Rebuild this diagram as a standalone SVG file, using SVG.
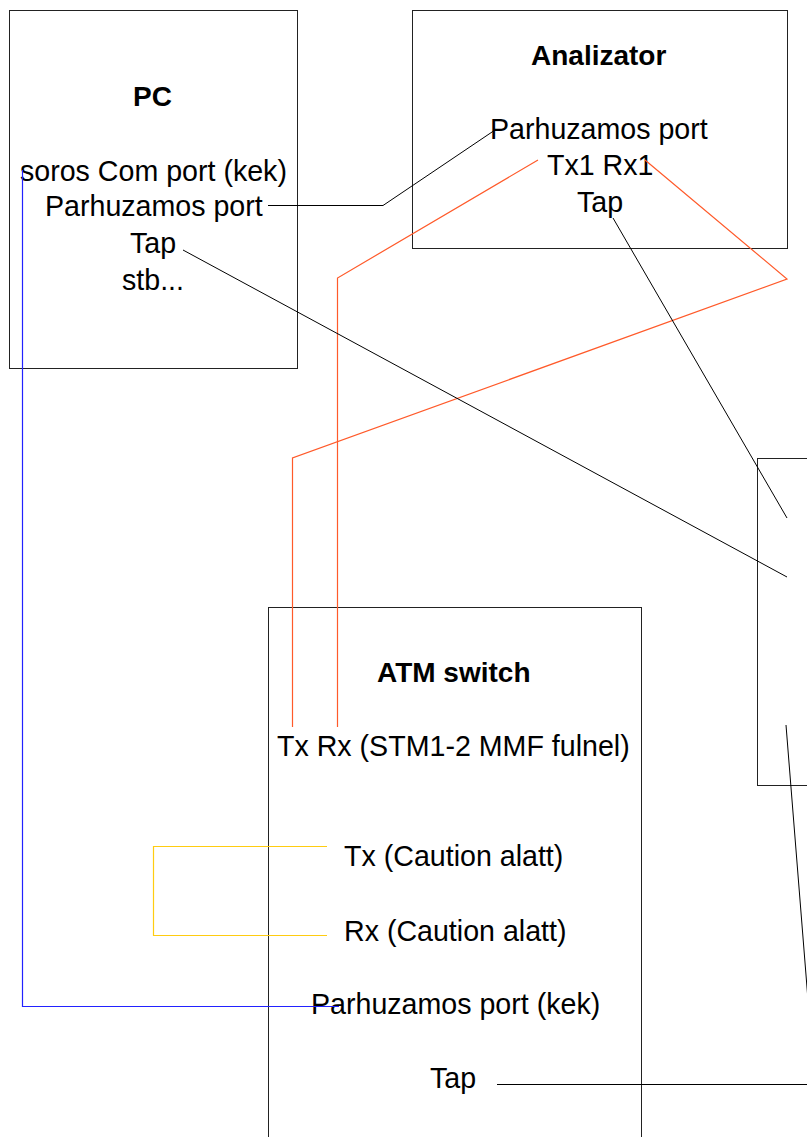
<svg xmlns="http://www.w3.org/2000/svg" width="807" height="1137" viewBox="0 0 807 1137">
<style>
.box{fill:none;stroke:#222;stroke-width:1}
.t{font-family:"Liberation Sans",Arial,sans-serif;font-size:28.6px;fill:#000}
.b{font-weight:bold;font-size:28px}
.c{fill:none;stroke-width:1.2}
.k{stroke:#000;stroke-width:1}
.r{stroke:#ff5a2a}
.y{stroke:#ffcc11}
.bl{stroke:#2222ff}
</style>
<rect width="807" height="1137" fill="#fff"/>
<g id="pc">
<rect class="box" x="9.5" y="10.5" width="288" height="358"/>
<text class="t b" x="133" y="106">PC</text>
<text class="t" x="20" y="181">soros Com port (kek)</text>
<text class="t" x="45" y="216">Parhuzamos port</text>
<text class="t" x="130" y="253">Tap</text>
<text class="t" x="122" y="290">stb...</text>
</g>
<g id="analizator">
<rect class="box" x="412.5" y="10.5" width="375" height="238"/>
<text class="t b" x="531" y="65">Analizator</text>
<text class="t" x="490" y="139">Parhuzamos port</text>
<text class="t" x="547" y="175">Tx1 Rx1</text>
<text class="t" x="577" y="212">Tap</text>
</g>
<g id="right-device">
<rect class="box" x="757.5" y="458.5" width="60" height="327"/>
</g>
<g id="atm-switch">
<rect class="box" x="268.5" y="607.5" width="373" height="540"/>
<text class="t b" x="377" y="682">ATM switch</text>
<text class="t" x="277" y="756">Tx Rx (STM1-2 MMF fulnel)</text>
<text class="t" x="344" y="866">Tx (Caution alatt)</text>
<text class="t" x="344" y="941">Rx (Caution alatt)</text>
<text class="t" x="311" y="1014">Parhuzamos port (kek)</text>
<text class="t" x="430" y="1088">Tap</text>
</g>
<g id="connectors">
<polyline class="c k" points="268,205.5 383,205.5 495,130"/>
<polyline class="c r" points="538,160 337.5,278 337.5,727"/>
<polyline class="c r" points="645,160 787,279 292.5,458 292.5,727"/>
<line class="c k" x1="183" y1="250" x2="787" y2="577"/>
<line class="c k" x1="613" y1="218" x2="787" y2="518"/>
<line class="c k" x1="786" y1="725" x2="808" y2="1000"/>
<line class="c k" x1="497" y1="1084.5" x2="807" y2="1084.5"/>
<polyline class="c y" points="327,846.5 153.5,846.5 153.5,935.5 327,935.5"/>
<polyline class="c bl" points="22.5,170 22.5,1006.5 339,1006.5"/>
</g>
</svg>
